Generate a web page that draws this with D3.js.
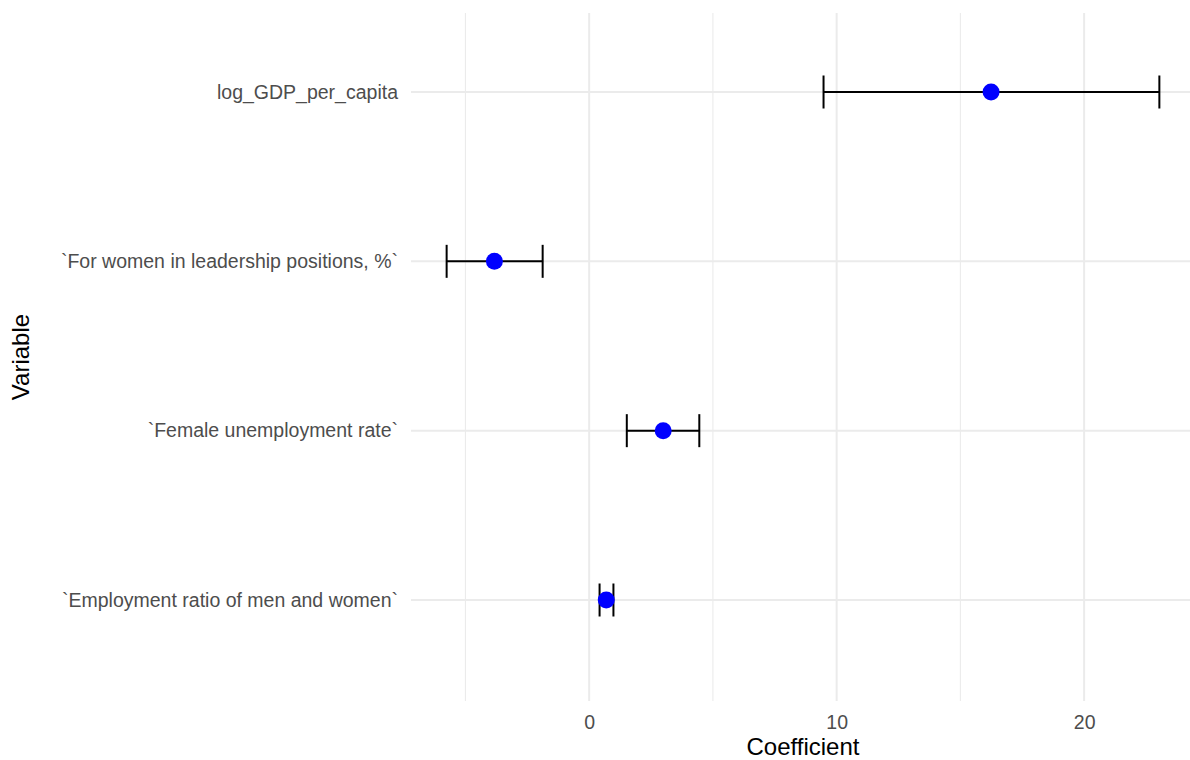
<!DOCTYPE html>
<html>
<head>
<meta charset="utf-8">
<script src="https://cdn.jsdelivr.net/npm/d3@7"></script>
<style>
  body { margin: 0; background: #fff; }
  svg text { font-family: "Liberation Sans", Arial, sans-serif; }
</style>
</head>
<body>
<div id="chart"></div>
<script>
// coefficient estimates and 95% intervals (bottom to top)
var variables = ["`Employment ratio of men and women`", "`Female unemployment rate`",
                 "`For women in leadership positions, %`", "log_GDP_per_capita"];
var estimates = [0.69, 2.99, -3.83, 16.24];
var lower = [0.42, 1.52, -5.76, 9.47];
var upper = [0.98, 4.45, -1.88, 23.04];
var xTicks = [0, 10, 20];
var xMinor = [-5, 5, 15];

var W = 1190, H = 760;
var margin = {top: 13, right: -5, bottom: 59, left: 411};

var svg = d3.select("#chart").append("svg")
  .attr("width", W).attr("height", H);

var lo = d3.min(lower), hi = d3.max(upper), pad = (hi - lo) * 0.05;
var x = d3.scaleLinear()
  .domain([lo - pad, hi + pad])
  .range([margin.left, W - margin.right]);

// discrete axis, first level at the bottom
var y = d3.scalePoint()
  .domain(variables)
  .range([600, 92]);

var panelTop = margin.top, panelBottom = H - margin.bottom;

// grid
svg.append("g").selectAll("line.minor")
  .data(xMinor).enter().append("line")
  .attr("x1", d => x(d)).attr("x2", d => x(d))
  .attr("y1", panelTop).attr("y2", panelBottom)
  .attr("stroke", "#ebebeb").attr("stroke-width", 1.1);

svg.append("g").selectAll("line.major")
  .data(xTicks).enter().append("line")
  .attr("x1", d => x(d)).attr("x2", d => x(d))
  .attr("y1", panelTop).attr("y2", panelBottom)
  .attr("stroke", "#ebebeb").attr("stroke-width", 2);

svg.append("g").selectAll("line.hgrid")
  .data(variables).enter().append("line")
  .attr("x1", margin.left).attr("x2", W)
  .attr("y1", d => y(d)).attr("y2", d => y(d))
  .attr("stroke", "#ebebeb").attr("stroke-width", 2);

// axes (text only, theme_minimal)
var xAxis = svg.append("g")
  .attr("transform", "translate(0," + panelBottom + ")")
  .call(d3.axisBottom(x).tickValues(xTicks).tickSize(0).tickPadding(14));
xAxis.select(".domain").remove();
xAxis.selectAll("text").attr("font-size", 19.5).attr("fill", "#4d4d4d");

var yAxis = svg.append("g")
  .attr("transform", "translate(" + margin.left + ",0)")
  .call(d3.axisLeft(y).tickSize(0).tickPadding(13));
yAxis.select(".domain").remove();
yAxis.selectAll("text").attr("font-size", 19.5).attr("fill", "#4d4d4d");

// errorbars
var rows = variables.map((v, i) => ({v: v, est: estimates[i], lo: lower[i], hi: upper[i]}));
var capH = 16.5;
var eb = svg.append("g").selectAll("g").data(rows).enter().append("g")
  .attr("stroke", "#000").attr("stroke-width", 2);
eb.append("line")
  .attr("x1", d => x(d.lo)).attr("x2", d => x(d.hi))
  .attr("y1", d => y(d.v)).attr("y2", d => y(d.v));
eb.append("line")
  .attr("x1", d => x(d.lo)).attr("x2", d => x(d.lo))
  .attr("y1", d => y(d.v) - capH).attr("y2", d => y(d.v) + capH);
eb.append("line")
  .attr("x1", d => x(d.hi)).attr("x2", d => x(d.hi))
  .attr("y1", d => y(d.v) - capH).attr("y2", d => y(d.v) + capH);

// points
svg.append("g").selectAll("circle").data(rows).enter().append("circle")
  .attr("cx", d => x(d.est)).attr("cy", d => y(d.v))
  .attr("r", 8.5).attr("fill", "#0000ff");

// axis titles
svg.append("text")
  .attr("x", (margin.left + W - margin.right) / 2).attr("y", 755)
  .attr("text-anchor", "middle").attr("font-size", 24).attr("fill", "#000")
  .text("Coefficient");

svg.append("text")
  .attr("transform", "translate(29," + ((panelTop + panelBottom) / 2) + ") rotate(-90)")
  .attr("text-anchor", "middle").attr("font-size", 24).attr("fill", "#000")
  .text("Variable");
</script>
</body>
</html>
